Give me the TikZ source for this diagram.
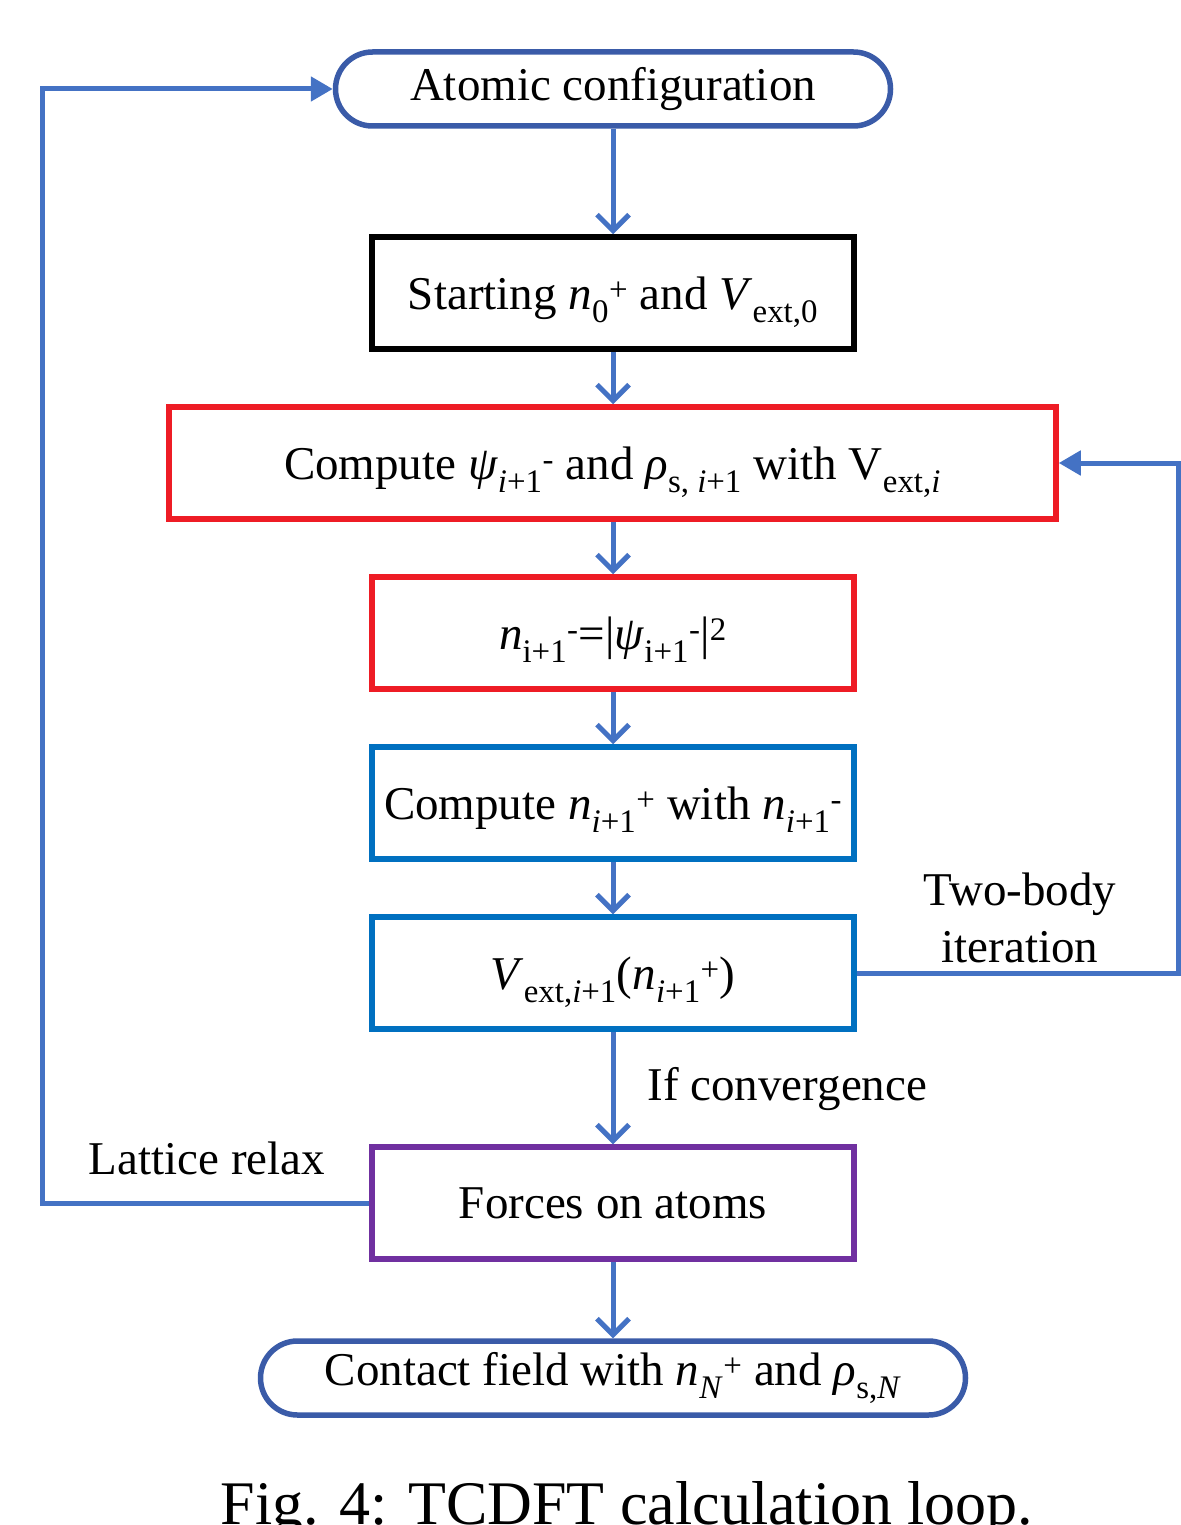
\documentclass[tikz,border=0pt]{standalone}
\usepackage{fontspec}
\setmainfont{Liberation Serif}
\usetikzlibrary{arrows.meta}
\newcommand{\sbs}[1]{\textsubscript{#1}}
\newcommand{\sps}[1]{\textsuperscript{#1}}
\definecolor{conn}{HTML}{4472C4}
\definecolor{bbox}{HTML}{0070C0}
\definecolor{rbox}{HTML}{EE1C25}
\definecolor{pbox}{HTML}{7030A0}
\definecolor{sbox}{HTML}{3A5BA8}
\tikzset{
  every node/.style={font=\fontsize{47}{51}\selectfont},
  stepbox/.style={draw, line width=5.5pt, minimum width=482pt, minimum height=112pt, inner sep=0pt, text depth=0pt, yshift=0pt},
  stadium/.style={draw=sbox, line width=5.5pt, rounded corners=37pt, minimum height=74pt, inner sep=0pt},
  varr/.style={draw=conn, line width=5pt, -{Straight Barb[length=16pt,width=32pt,line width=5pt]}},
  harr/.style={draw=conn, line width=5pt, -{Triangle[length=22pt,width=24pt]}},
  lbl/.style={font=\fontsize{47}{51}\selectfont, inner sep=0pt},
}
\begin{document}
\begin{tikzpicture}[x=1pt,y=-1pt]
\useasboundingbox (0,0) rectangle (1180,1525);
\node[stadium, minimum width=555pt] (atom) at (613,89) {Atomic configuration};
\node[stepbox, draw=black] (start) at (613,293) {Starting \textit{n}\sbs{0}\sps{+} and \textit{V}\sbs{ext,0}};
\node[stepbox, draw=rbox, minimum width=887pt] (comp) at (612.5,463) {Compute \textit{ψ}\sbs{\textit{i}+1}\sps{-} and \textit{ρ}\sbs{s, \textit{i}+1} with V\sbs{ext,\textit{i}}};
\node[stepbox, draw=rbox] (dens) at (613,633) {\textit{n}\sbs{i+1}\sps{-}=|\textit{ψ}\sbs{i+1}\sps{-}|\sps{2}};
\node[stepbox, draw=bbox] (cnp) at (613,803) {Compute \textit{n}\sbs{\textit{i}+1}\sps{+} with \textit{n}\sbs{\textit{i}+1}\sps{-}};
\node[stepbox, draw=bbox] (vext) at (613,973) {\textit{V}\sbs{ext,\textit{i}+1}(\textit{n}\sbs{\textit{i}+1}\sps{+})};
\node[stepbox, draw=pbox] (forces) at (613,1203) {Forces on atoms};
\node[stadium, minimum width=705pt] (contact) at (613,1378) {Contact field with \textit{n}\sbs{\textit{N}}\sps{+} and \textit{ρ}\sbs{s,\textit{N}}};

\draw[varr] (atom) -- (start);
\draw[varr] (start) -- (comp.north -| start.south);
\draw[varr] (comp.south -| dens.north) -- (dens);
\draw[varr] (dens) -- (cnp);
\draw[varr] (cnp) -- (vext);
\draw[varr] (vext) -- node[lbl, anchor=west, xshift=32pt, yshift=-1pt]{If convergence} (forces);
\draw[varr] (forces) -- (contact);

\coordinate (lc) at (42,1203);
\draw[harr] (forces.west) -- (lc) |- (atom.west);
\node[lbl] (lattice) at (207,1158) {Lattice relax};

\coordinate (rc) at (1178,973);
\draw[harr] (vext.east) -- (rc) |- (comp.east);
\node[lbl, align=center, font=\fontsize{47}{57}\selectfont] (twobody) at (1020,918) {Two-body\\iteration};

\node[font=\fontsize{62}{66}\selectfont, anchor=base, inner sep=0pt] (caption) at (627,1524) {Fig. 4: TCDFT calculation loop.};
\end{tikzpicture}
\end{document}
